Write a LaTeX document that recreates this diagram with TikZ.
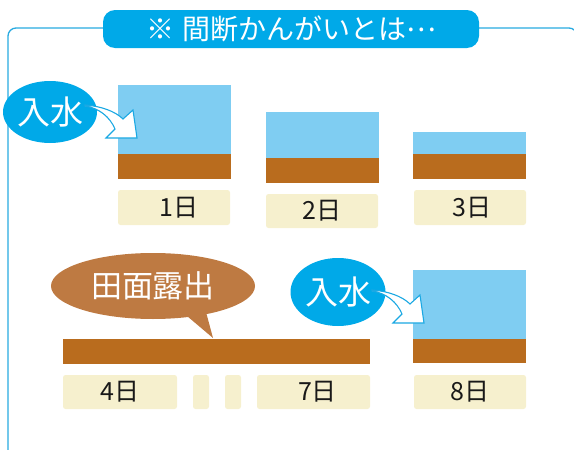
\documentclass[tikz,border=0pt]{standalone}
\usepackage{fontspec}
\setmainfont{Noto Sans CJK JP}
\usetikzlibrary{shapes.geometric}
\definecolor{frameblue}{RGB}{40,170,225}
\definecolor{bannerblue}{RGB}{0,169,232}
\definecolor{water}{RGB}{127,205,242}
\definecolor{soil}{RGB}{185,108,30}
\definecolor{labelbg}{RGB}{246,240,206}
\definecolor{bubble}{RGB}{190,122,66}
\definecolor{arrowblue}{RGB}{26,168,227}
\begin{document}
\begin{tikzpicture}[x=1pt,y=-1pt,
  block/.style={inner sep=0pt, outer sep=0pt, anchor=north west},
  waterbox/.style={block, fill=water},
  soilbox/.style={block, fill=soil},
  daybox/.style={block, fill=labelbg, rounded corners=2.5pt, text=black!90,
    font=\fontsize{25}{25}\selectfont},
  inflow/.style={ellipse, fill=bannerblue, text=white, inner sep=0pt,
    font=\fontsize{33}{33}\selectfont},
  hollowarrow/.pic={\draw[arrowblue, line width=1.1pt, fill=white, line join=miter]
    (0,0) .. controls (15,1) and (30,6) .. (38,14) -- (48,5) -- (52,33)
    -- (21,33) -- (30,24) .. controls (25,12) and (14,3) .. (0,1) -- cycle;}
]
\useasboundingbox (0,0) rectangle (574,450);
% frame
\draw[frameblue, line width=1.3pt, rounded corners=8pt] (8,470) -- (8,28) -- (577,28) -- (577,470);
% title banner
\node[fill=bannerblue, rounded corners=12pt, minimum width=376pt, minimum height=38pt,
  inner sep=0pt, text=white, font=\fontsize{28}{28}\selectfont] (title) at (291,29)
  {※\hspace{8pt}間断かんがいとは\raisebox{0.3em}{…}};
% day 1
\node[waterbox, minimum width=113pt, minimum height=69pt] (w1) at (118,85) {};
\node[soilbox, minimum width=113pt, minimum height=25pt] (s1) at (118,154) {};
\node[daybox, minimum width=112pt, minimum height=35pt] (d1) at (118,190) {\hspace*{10pt}1日};
% day 2
\node[waterbox, minimum width=113pt, minimum height=46pt] (w2) at (266,112) {};
\node[soilbox, minimum width=113pt, minimum height=25pt] (s2) at (266,158) {};
\node[daybox, minimum width=112pt, minimum height=34pt] (d2) at (266,194) {2日};
% day 3
\node[waterbox, minimum width=113pt, minimum height=22pt] (w3) at (413,132) {};
\node[soilbox, minimum width=113pt, minimum height=25pt] (s3) at (413,154) {};
\node[daybox, minimum width=112pt, minimum height=35pt] (d3) at (414,190) {\hspace*{4pt}3日};
% days 4-7
\node[soilbox, minimum width=307pt, minimum height=25pt] (s4) at (63,339) {};
\node[daybox, minimum width=114pt, minimum height=34pt] (d4) at (63,375) {4日};
\node[daybox, minimum width=16pt, minimum height=34pt] (g5) at (193,375) {};
\node[daybox, minimum width=16pt, minimum height=34pt] (g6) at (225,375) {};
\node[daybox, minimum width=113pt, minimum height=34pt] (d7) at (257,375) {\hspace*{8pt}7日};
% day 8
\node[waterbox, minimum width=113pt, minimum height=69pt] (w8) at (413,270) {};
\node[soilbox, minimum width=113pt, minimum height=24pt] (s8) at (413,339) {};
\node[daybox, minimum width=112pt, minimum height=34pt] (d8) at (414,375) {8日};
% speech bubble
\fill[bubble] (187,316) -- (213,338) -- (206,312) -- cycle;
\node[ellipse, fill=bubble, minimum width=204pt, minimum height=66pt, inner sep=0pt,
  text=white, font=\fontsize{31}{31}\selectfont] (bub) at (153,286) {田面露出};
% inflow ellipses and arrows
\node[inflow, minimum width=94pt, minimum height=62pt] (in1) at (50,112) {入水};
\node[inflow, minimum width=95pt, minimum height=68pt] (in2) at (338,292) {入水};
\pic at (85,105) {hollowarrow};
\pic at (372,290) {hollowarrow};
\end{tikzpicture}
\end{document}
